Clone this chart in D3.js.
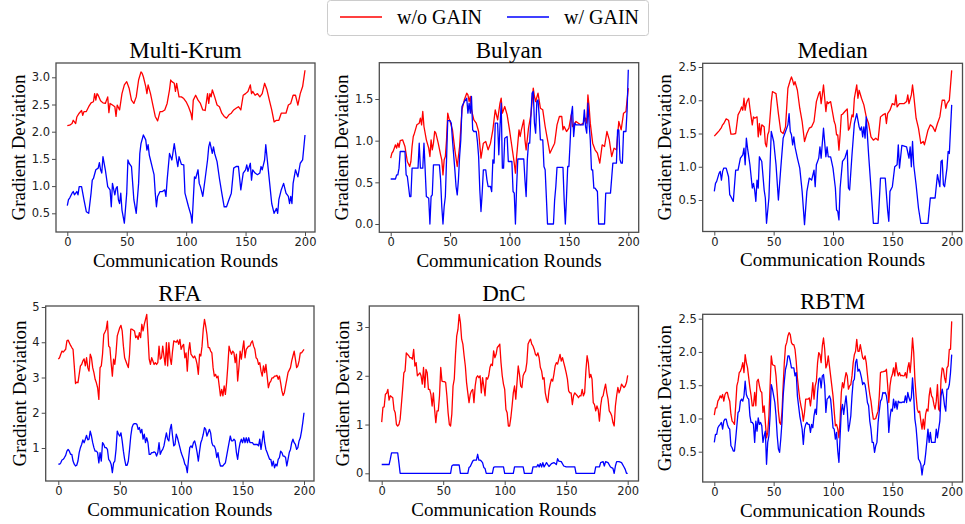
<!DOCTYPE html>
<html><head><meta charset="utf-8">
<script src="https://cdn.jsdelivr.net/npm/d3@7"></script>
<style>body{margin:0;background:#fff}svg{display:block}</style>
</head><body>
<svg id="c" width="965" height="524"></svg>
<script>
// ---------- DATA ----------
const seriesNames = ["w/o GAIN", "w/ GAIN"];
const seriesColors = ["#ff0000", "#0000ff"];
const panelTitles = ["Multi-Krum", "Bulyan", "Median", "RFA", "DnC", "RBTM"];
const xTicks = [0, 50, 100, 150, 200];
const xLabel = "Communication Rounds";
const yLabel = "Gradient Deviation";
const multiKrumYTicks = [0.5, 1.0, 1.5, 2.0, 2.5, 3.0];
const bulyanYTicks = [0.0, 0.5, 1.0, 1.5];
const medianYTicks = [0.5, 1.0, 1.5, 2.0, 2.5];
const rfaYTicks = [1, 2, 3, 4, 5];
const dncYTicks = [0, 1, 2, 3];
const rbtmYTicks = [0.5, 1.0, 1.5, 2.0, 2.5];

const multiKrumRed = [[0,2.11],[2,2.12],[4,2.15],[5,2.21],[6,2.18],[7,2.15],[8,2.27],[10,2.34],[12,2.39],[13,2.30],[14,2.37],[16,2.37],[18,2.46],[20,2.53],[22,2.55],[23,2.70],[24,2.58],[25,2.70],[26,2.67],[28,2.57],[30,2.53],[32,2.52],[34,2.64],[35,2.35],[36,2.52],[38,2.49],[40,2.46],[41,2.28],[42,2.49],[44,2.40],[46,2.70],[48,2.86],[50,2.92],[52,2.80],[54,2.58],[56,2.52],[58,2.64],[60,2.95],[62,3.10],[63,3.07],[64,3.01],[66,2.83],[67,2.70],[68,2.86],[70,2.70],[72,2.49],[74,2.28],[76,2.20],[78,2.37],[80,2.37],[82,2.40],[84,2.52],[86,2.77],[87,2.95],[88,2.92],[90,2.89],[91,2.74],[92,2.89],[94,2.64],[96,2.64],[98,2.61],[100,2.55],[102,2.46],[104,2.34],[105,2.22],[106,2.58],[108,2.67],[110,2.58],[112,2.52],[114,2.40],[116,2.39],[118,2.70],[119,2.52],[120,2.70],[121,2.64],[122,2.77],[124,2.64],[126,2.49],[128,2.46],[130,2.34],[132,2.28],[134,2.25],[136,2.31],[138,2.34],[140,2.40],[142,2.43],[144,2.46],[146,2.40],[148,2.67],[150,2.70],[152,2.74],[154,2.86],[155,2.70],[156,2.74],[158,2.67],[160,2.70],[162,2.64],[164,2.70],[166,2.89],[168,2.77],[170,2.58],[172,2.40],[174,2.18],[176,2.21],[178,2.21],[180,2.34],[182,2.34],[184,2.34],[186,2.49],[188,2.52],[190,2.67],[192,2.67],[193,2.58],[194,2.49],[196,2.70],[198,2.83],[200,3.13]];
const multiKrumBlue = [[0,0.64],[1,0.75],[2,0.78],[4,0.87],[5,0.90],[6,0.84],[8,0.90],[9,0.84],[10,0.99],[12,0.99],[14,0.75],[16,0.53],[18,0.50],[20,0.87],[21,1.11],[22,1.14],[24,1.30],[26,1.33],[27,1.43],[28,1.30],[29,1.24],[30,1.54],[32,1.30],[34,0.99],[36,0.93],[37,0.62],[38,1.05],[40,0.84],[41,0.96],[42,0.99],[43,0.75],[44,0.68],[45,0.87],[46,0.56],[48,0.32],[50,0.87],[51,1.48],[52,1.42],[54,1.36],[56,0.75],[58,0.50],[60,1.05],[61,1.60],[62,1.78],[64,1.94],[66,1.85],[67,1.66],[68,1.76],[69,1.57],[70,1.48],[72,1.30],[73,1.21],[74,0.87],[75,0.62],[76,0.81],[78,0.90],[80,0.90],[82,0.93],[83,0.81],[84,1.11],[86,1.60],[88,1.48],[90,1.78],[92,1.48],[93,1.36],[94,1.54],[96,1.40],[98,1.39],[99,0.87],[102,0.62],[104,0.47],[105,0.32],[106,0.75],[107,1.17],[108,1.14],[110,1.30],[111,1.05],[112,0.99],[114,0.81],[116,1.14],[118,1.48],[119,1.72],[120,1.81],[122,1.60],[123,1.72],[124,1.60],[126,1.45],[128,1.14],[130,0.87],[132,0.62],[134,0.62],[136,0.75],[138,0.87],[140,1.33],[142,1.36],[144,1.36],[146,0.93],[148,1.24],[150,1.30],[151,1.39],[152,1.27],[154,1.42],[155,1.11],[156,1.30],[158,1.24],[160,1.21],[162,1.24],[163,1.36],[164,1.30],[165,1.39],[166,1.48],[167,1.76],[168,1.54],[170,1.11],[172,0.68],[174,0.50],[176,0.59],[177,0.50],[178,0.75],[180,0.93],[182,1.05],[184,0.87],[186,0.81],[187,0.68],[188,0.81],[189,0.68],[190,1.05],[192,1.30],[194,1.17],[196,1.42],[198,1.48],[200,1.94]];

const bulyanRed = [[0,0.79],[1,0.85],[2,0.87],[3,0.91],[4,0.95],[5,0.91],[6,0.97],[7,0.92],[8,1.00],[10,1.01],[12,0.93],[14,0.75],[16,0.69],[17,0.75],[18,0.93],[19,1.05],[20,1.09],[22,1.19],[24,1.21],[25,1.27],[26,1.19],[27,1.35],[28,1.17],[30,1.01],[32,0.91],[33,0.81],[34,1.01],[35,0.89],[36,0.97],[37,1.11],[38,1.09],[40,0.97],[42,0.83],[43,0.77],[44,0.59],[45,0.77],[46,0.81],[47,1.01],[48,1.33],[49,1.27],[50,1.23],[52,1.13],[54,0.89],[56,0.69],[58,0.93],[60,1.37],[62,1.49],[64,1.57],[65,1.55],[66,1.47],[67,1.53],[68,1.37],[70,1.25],[72,1.21],[74,1.11],[76,0.79],[78,0.97],[80,0.99],[82,0.89],[84,0.97],[86,1.13],[88,1.37],[90,1.25],[92,1.45],[93,1.51],[94,1.33],[96,1.41],[98,1.31],[100,1.13],[102,0.93],[104,0.73],[105,0.61],[106,0.81],[108,1.13],[109,1.05],[110,1.13],[112,1.25],[113,1.01],[114,0.89],[116,1.15],[118,1.31],[120,1.63],[121,1.53],[122,1.47],[124,1.57],[126,1.39],[128,1.37],[130,1.17],[132,1.01],[134,0.85],[136,0.91],[138,0.97],[140,1.19],[142,1.29],[144,1.29],[145,1.13],[146,1.17],[148,1.11],[150,1.15],[152,1.31],[153,1.17],[154,1.19],[156,1.23],[158,1.21],[160,1.19],[162,1.21],[164,1.27],[165,1.21],[166,1.55],[167,1.41],[168,1.21],[170,0.97],[172,0.89],[174,0.85],[176,0.73],[178,0.95],[180,0.93],[182,1.11],[184,1.01],[186,0.81],[188,0.91],[190,0.89],[192,1.23],[194,1.13],[196,1.33],[198,1.35],[200,1.63]];
const bulyanBlue = [[0,0.54],[4,0.54],[5,0.59],[6,0.59],[7,0.67],[8,0.87],[12,0.87],[13,0.59],[14,0.57],[15,0.45],[16,0.33],[17,0.33],[18,0.67],[23,0.67],[24,0.97],[25,0.67],[27,0.67],[28,0.97],[29,0.65],[30,0.33],[32,0.31],[33,0.0],[34,0.33],[35,0.35],[36,0.71],[41,0.71],[42,0.53],[43,0.21],[44,0.0],[45,0.21],[46,0.33],[47,0.77],[48,1.24],[50,1.24],[51,1.21],[52,1.01],[54,0.65],[55,0.45],[56,0.35],[57,0.53],[58,0.81],[59,1.01],[60,1.41],[62,1.47],[64,1.51],[65,1.33],[66,1.45],[67,1.33],[68,1.53],[69,1.13],[70,1.11],[72,1.11],[73,0.99],[74,0.81],[75,0.41],[76,0.15],[77,0.37],[78,0.65],[80,0.65],[81,0.53],[82,0.45],[84,0.45],[85,0.39],[86,0.77],[87,0.73],[88,1.21],[90,1.21],[91,0.83],[92,1.17],[93,1.45],[94,0.67],[95,0.67],[96,1.03],[98,1.05],[99,0.75],[102,0.75],[103,0.39],[104,0.37],[105,0.0],[106,0.45],[107,0.78],[112,0.78],[113,0.53],[114,0.33],[115,0.77],[116,0.97],[117,0.97],[118,1.29],[119,1.57],[120,1.59],[121,1.21],[122,1.09],[123,1.47],[124,1.49],[125,1.29],[126,1.01],[128,1.01],[129,0.69],[130,0.65],[131,0.33],[132,0.0],[137,0.0],[138,0.29],[139,0.45],[140,0.68],[145,0.68],[146,0.29],[147,0.0],[148,0.33],[149,0.69],[150,0.69],[151,0.97],[152,1.31],[153,1.41],[154,1.05],[155,1.21],[156,1.19],[162,1.19],[163,1.37],[164,1.17],[165,1.09],[166,1.45],[167,1.21],[168,1.01],[169,0.65],[170,0.65],[171,0.43],[172,0.43],[174,0.39],[175,0.0],[180,0.0],[181,0.37],[185,0.37],[186,0.55],[187,0.73],[190,0.73],[191,1.13],[192,1.13],[193,0.77],[194,0.73],[195,0.73],[196,1.11],[198,1.11],[199,1.37],[200,1.85]];

const medianRed = [[0,1.46],[2,1.50],[4,1.54],[6,1.59],[7,1.63],[8,1.65],[10,1.72],[12,1.70],[14,1.49],[16,1.49],[18,1.50],[20,1.78],[22,1.85],[23,1.90],[24,1.85],[25,2.03],[26,1.85],[27,1.95],[28,2.00],[29,2.03],[30,1.88],[32,1.63],[33,1.75],[34,1.73],[36,1.75],[37,1.45],[38,1.65],[39,1.48],[40,1.63],[42,1.60],[43,1.35],[44,1.30],[45,1.48],[46,1.53],[48,1.98],[49,2.13],[50,2.12],[52,2.10],[54,1.80],[56,1.53],[58,1.50],[60,1.60],[62,2.18],[64,2.30],[65,2.35],[66,2.30],[67,2.23],[68,2.28],[70,2.15],[72,1.88],[74,1.68],[76,1.38],[78,1.50],[80,1.58],[82,1.60],[84,1.68],[86,1.98],[88,2.10],[89,2.13],[90,1.95],[91,2.08],[92,2.23],[94,1.83],[95,1.98],[96,1.95],[98,1.98],[100,1.78],[101,1.68],[102,1.63],[103,1.48],[104,1.48],[105,1.25],[106,1.48],[107,1.78],[108,1.79],[110,1.83],[112,1.87],[113,1.55],[114,1.58],[116,1.78],[117,1.75],[118,2.03],[120,2.23],[121,2.03],[122,2.15],[124,2.03],[126,1.93],[128,1.75],[130,1.65],[132,1.45],[134,1.40],[136,1.43],[138,1.40],[140,1.75],[142,1.78],[144,1.80],[145,1.65],[146,1.80],[148,1.85],[150,1.95],[152,1.93],[153,2.08],[154,1.90],[156,1.95],[158,1.95],[160,1.95],[162,1.98],[163,2.08],[164,1.95],[166,2.08],[167,2.23],[168,2.08],[170,1.73],[172,1.58],[174,1.35],[176,1.38],[177,1.33],[178,1.40],[180,1.55],[182,1.63],[184,1.60],[186,1.53],[188,1.65],[190,1.75],[192,2.00],[194,2.00],[195,1.88],[196,1.95],[198,2.00],[200,2.45]];
const medianBlue = [[0,0.63],[1,0.75],[2,0.78],[4,0.90],[5,0.93],[6,0.80],[7,0.93],[8,0.98],[10,0.98],[12,0.85],[13,0.58],[14,0.55],[16,0.48],[18,0.95],[20,0.95],[22,1.13],[24,1.18],[25,1.28],[26,1.03],[27,1.43],[28,1.28],[30,1.03],[32,0.68],[33,0.75],[34,0.65],[35,0.48],[36,0.80],[37,0.68],[38,1.15],[40,1.08],[42,0.65],[43,0.53],[44,0.15],[46,0.53],[48,1.53],[50,1.38],[52,1.03],[54,0.50],[56,0.98],[58,1.43],[60,1.53],[62,1.63],[63,1.80],[64,1.53],[65,1.48],[66,1.33],[67,1.45],[68,1.30],[70,1.13],[72,0.98],[74,0.63],[76,0.13],[78,0.63],[80,0.83],[82,0.80],[84,0.95],[85,0.70],[86,1.03],[88,1.13],[89,1.30],[90,1.13],[92,1.58],[94,1.15],[95,1.30],[96,1.15],[98,1.15],[100,0.98],[102,0.68],[103,0.35],[104,0.33],[105,0.20],[106,0.68],[108,1.08],[110,1.13],[112,1.25],[113,0.68],[114,0.65],[116,1.18],[118,1.65],[120,1.80],[122,1.60],[123,1.55],[124,1.60],[125,1.45],[126,1.60],[127,1.43],[128,1.75],[130,1.18],[132,0.68],[134,0.15],[138,0.15],[140,0.83],[144,0.83],[146,0.35],[147,0.18],[148,0.63],[150,0.70],[152,1.00],[154,1.03],[155,1.33],[156,0.98],[158,1.32],[162,1.30],[164,1.13],[165,1.30],[166,1.00],[167,1.38],[168,1.03],[170,0.73],[172,0.38],[174,0.15],[180,0.15],[182,0.53],[186,0.53],[188,0.88],[190,0.70],[191,1.08],[192,1.10],[193,0.73],[194,0.70],[196,0.98],[197,1.23],[198,1.20],[200,1.93]];

const rfaRed = [[0,3.52],[1,3.56],[2,3.66],[3,3.75],[4,3.72],[6,3.80],[7,4.04],[8,4.06],[10,3.91],[11,3.85],[12,3.80],[13,3.33],[14,2.83],[15,2.87],[16,2.85],[18,3.33],[19,3.37],[20,3.47],[21,3.53],[22,3.33],[23,3.56],[24,3.28],[25,3.18],[26,3.66],[27,3.56],[28,3.28],[29,3.14],[30,2.95],[31,2.85],[32,2.71],[33,2.38],[34,3.28],[35,3.33],[36,3.66],[37,4.22],[38,4.29],[39,4.37],[40,4.60],[41,3.89],[42,3.85],[43,3.42],[44,3.04],[45,3.52],[46,3.37],[47,3.70],[48,4.18],[50,4.41],[51,4.48],[52,4.32],[53,3.89],[54,3.56],[56,3.37],[57,3.28],[58,3.66],[59,4.37],[60,4.37],[62,4.32],[63,4.13],[64,4.18],[65,4.08],[66,4.27],[67,4.13],[68,4.51],[69,4.32],[70,4.51],[71,4.65],[72,4.79],[73,4.18],[74,3.52],[75,3.37],[76,3.56],[77,3.47],[78,3.37],[79,3.42],[80,3.37],[81,3.42],[82,3.89],[83,3.52],[84,3.56],[85,3.89],[86,3.61],[87,3.35],[88,3.99],[89,3.33],[90,3.99],[91,3.56],[92,3.37],[93,3.75],[94,4.04],[96,4.00],[97,4.06],[98,3.94],[99,4.08],[100,3.80],[101,3.89],[102,3.94],[103,3.56],[104,3.70],[105,3.18],[106,3.75],[107,3.99],[108,3.66],[110,3.56],[111,3.61],[112,3.52],[113,3.37],[114,3.09],[115,3.66],[116,3.61],[117,3.89],[118,4.37],[119,4.65],[120,4.46],[121,4.22],[122,3.85],[123,3.85],[124,3.75],[125,3.70],[126,3.28],[127,3.04],[128,3.09],[129,2.99],[130,3.04],[131,2.76],[132,2.48],[133,2.66],[134,2.48],[135,2.76],[136,2.52],[137,2.85],[138,3.33],[139,3.89],[140,3.75],[141,3.66],[142,3.75],[143,3.70],[144,3.42],[145,3.66],[146,2.90],[147,3.28],[148,3.75],[149,3.52],[150,3.80],[151,4.04],[152,3.56],[153,3.80],[154,3.85],[155,3.89],[156,3.89],[157,3.99],[158,4.04],[159,3.89],[160,3.80],[161,3.56],[162,3.52],[163,3.37],[164,3.42],[165,3.18],[166,3.04],[167,3.33],[168,3.14],[169,3.37],[170,3.04],[171,2.71],[172,2.85],[173,2.90],[174,2.99],[175,2.99],[176,3.04],[177,3.04],[178,3.06],[179,2.95],[180,3.04],[181,2.85],[182,2.62],[183,2.49],[184,2.57],[185,2.76],[186,2.95],[187,3.14],[188,3.21],[189,3.28],[190,3.47],[191,3.61],[192,3.75],[193,3.52],[194,3.28],[195,3.33],[196,3.47],[197,3.70],[198,3.70],[199,3.75],[200,3.80]];
const rfaBlue = [[0,0.54],[1,0.54],[2,0.58],[3,0.66],[4,0.68],[5,0.73],[6,0.79],[7,0.91],[8,0.96],[9,0.91],[10,0.82],[11,0.82],[12,0.63],[13,0.54],[14,0.49],[15,0.51],[16,0.63],[17,0.87],[18,1.01],[19,1.10],[20,1.23],[21,1.15],[22,1.25],[23,1.36],[24,1.23],[25,1.25],[26,1.48],[27,1.34],[28,1.15],[29,1.01],[30,0.91],[31,0.91],[32,0.87],[33,0.58],[34,0.87],[35,0.63],[36,1.15],[37,1.10],[38,1.01],[39,1.01],[40,0.96],[41,0.68],[42,0.63],[43,0.54],[44,0.30],[45,0.58],[46,0.63],[47,0.96],[48,1.48],[49,1.39],[50,1.34],[51,1.43],[52,1.20],[53,0.91],[54,0.68],[55,0.51],[56,0.51],[57,0.63],[58,0.96],[59,1.34],[60,1.58],[61,1.67],[62,1.69],[63,1.69],[64,1.67],[65,1.53],[66,1.58],[67,1.43],[68,1.53],[69,1.25],[70,1.39],[71,1.15],[72,1.29],[73,1.15],[74,0.82],[75,0.82],[76,0.87],[77,0.87],[78,0.89],[79,0.87],[80,0.77],[81,0.87],[82,1.15],[83,0.82],[84,0.91],[85,0.96],[86,1.06],[87,1.25],[88,1.43],[89,1.25],[90,1.20],[91,1.53],[92,1.67],[93,1.34],[94,1.06],[95,1.10],[96,1.39],[97,1.29],[98,1.15],[99,1.01],[100,0.87],[101,0.77],[102,0.68],[103,0.54],[104,0.49],[105,0.30],[106,0.68],[107,1.01],[108,1.06],[109,1.01],[110,1.15],[111,1.20],[112,1.06],[113,0.87],[114,0.63],[115,0.91],[116,1.15],[117,1.25],[118,1.39],[119,1.58],[120,1.53],[121,1.34],[122,1.43],[123,1.53],[124,1.43],[125,1.15],[126,1.06],[127,1.06],[128,0.96],[129,0.73],[130,0.87],[131,0.63],[132,0.49],[133,0.49],[134,0.49],[135,0.54],[136,0.58],[137,0.77],[138,0.96],[139,1.15],[140,1.34],[141,1.20],[142,1.20],[143,1.25],[144,1.20],[145,0.87],[146,0.68],[147,0.96],[148,1.15],[149,1.25],[150,1.15],[151,1.29],[152,1.15],[153,1.29],[154,1.15],[155,1.29],[156,1.15],[157,1.15],[158,1.15],[159,1.10],[160,1.10],[161,1.10],[162,1.10],[163,1.06],[164,1.25],[165,0.96],[166,1.20],[167,1.48],[168,1.15],[169,0.96],[170,0.87],[171,0.77],[172,0.68],[173,0.68],[174,0.49],[175,0.63],[176,0.44],[177,0.54],[178,0.49],[179,0.68],[180,0.73],[181,0.91],[182,0.87],[183,0.77],[184,0.77],[185,0.73],[186,0.49],[187,0.68],[188,0.87],[189,0.96],[190,1.15],[191,1.25],[192,1.15],[193,1.10],[194,0.96],[195,1.01],[196,1.20],[197,1.29],[198,1.48],[199,1.72],[200,2.00]];

const dncRed = [[0,1.05],[1,1.35],[2,1.36],[3,1.62],[4,1.64],[5,1.72],[6,1.50],[7,1.59],[8,1.57],[9,1.55],[10,1.31],[11,1.24],[12,1.00],[13,0.97],[14,1.00],[15,1.11],[16,1.41],[17,1.72],[18,2.06],[19,2.10],[20,2.47],[21,2.44],[22,2.41],[23,2.37],[24,2.37],[25,2.34],[26,2.54],[27,2.20],[28,2.27],[29,2.00],[30,2.03],[31,2.06],[32,2.00],[33,1.83],[34,2.17],[35,1.76],[36,2.13],[37,2.06],[38,1.72],[39,1.72],[40,1.62],[41,1.38],[42,1.65],[43,1.31],[44,1.04],[45,1.28],[46,1.28],[47,1.59],[48,2.17],[49,1.89],[50,1.88],[51,1.88],[52,1.86],[53,1.59],[54,1.24],[55,1.00],[56,0.97],[57,1.21],[58,1.79],[59,1.93],[60,2.44],[61,2.82],[62,2.95],[63,3.26],[64,3.09],[65,2.75],[66,2.65],[67,2.41],[68,2.20],[69,1.86],[70,1.65],[71,1.45],[72,1.62],[73,1.69],[74,1.72],[75,1.45],[76,1.79],[77,1.96],[78,2.00],[79,1.96],[80,2.00],[81,1.65],[82,1.96],[83,1.79],[84,1.59],[85,1.96],[86,1.93],[87,2.00],[88,2.17],[89,2.24],[90,2.21],[91,2.51],[92,2.37],[93,2.44],[94,2.58],[95,2.61],[96,2.65],[97,2.27],[98,2.00],[99,1.83],[100,1.72],[101,1.31],[102,1.24],[103,0.97],[104,0.97],[105,1.14],[106,1.38],[107,1.65],[108,1.79],[109,1.52],[110,1.86],[111,2.20],[112,2.03],[113,1.79],[114,1.76],[115,2.00],[116,2.06],[117,2.10],[118,2.27],[119,2.65],[120,2.71],[121,2.75],[122,2.65],[123,2.61],[124,2.54],[125,2.44],[126,2.41],[127,2.47],[128,2.37],[129,2.17],[130,2.10],[131,1.93],[132,1.96],[133,1.65],[134,1.52],[135,1.45],[136,1.69],[137,1.83],[138,1.93],[139,1.89],[140,2.03],[141,2.20],[142,2.27],[143,2.24],[144,2.34],[145,2.44],[146,2.30],[147,2.37],[148,2.27],[149,2.17],[150,2.06],[151,1.93],[152,1.69],[153,1.65],[154,1.65],[155,1.41],[156,1.59],[157,1.65],[158,1.62],[159,1.59],[160,1.55],[161,1.59],[162,1.59],[163,1.72],[164,1.59],[165,1.65],[166,2.10],[167,2.41],[168,2.27],[169,1.96],[170,2.03],[171,1.93],[172,1.45],[173,1.41],[174,1.28],[175,1.38],[176,1.31],[177,1.07],[178,1.38],[179,1.55],[180,1.59],[181,1.72],[182,1.83],[183,1.65],[184,1.52],[185,1.28],[186,1.24],[187,1.18],[188,1.04],[189,0.97],[190,1.38],[191,1.59],[192,1.76],[193,1.65],[194,1.72],[195,1.83],[196,1.79],[197,1.76],[198,1.79],[199,1.86],[200,2.01]];
const dncBlue = [[0,0.18],[6,0.18],[7,0.29],[8,0.42],[13,0.42],[14,0.22],[15,0.0],[56,0.0],[57,0.15],[58,0.17],[63,0.17],[64,0.0],[70,0.0],[71,0.12],[72,0.14],[74,0.25],[75,0.27],[77,0.27],[78,0.39],[79,0.27],[80,0.27],[81,0.25],[82,0.22],[83,0.12],[84,0.10],[85,0.0],[90,0.0],[91,0.12],[92,0.13],[99,0.13],[100,0.0],[107,0.0],[108,0.13],[115,0.13],[116,0.0],[122,0.0],[123,0.13],[126,0.13],[127,0.18],[128,0.13],[129,0.20],[130,0.13],[131,0.22],[132,0.13],[134,0.22],[136,0.14],[138,0.20],[140,0.22],[142,0.18],[143,0.30],[144,0.25],[146,0.24],[148,0.15],[150,0.13],[157,0.13],[158,0.0],[173,0.0],[174,0.13],[177,0.13],[178,0.22],[180,0.24],[181,0.15],[182,0.24],[184,0.22],[186,0.13],[188,0.10],[189,0.0],[190,0.15],[191,0.24],[193,0.24],[195,0.22],[197,0.13],[198,0.08],[199,0.0],[200,0.0]];

const rbtmRed = [[0,1.05],[1,1.16],[2,1.16],[3,1.26],[4,1.29],[5,1.34],[6,1.31],[7,1.36],[8,1.26],[9,1.36],[10,1.39],[11,1.39],[12,1.31],[13,1.26],[14,1.06],[15,0.96],[16,0.94],[17,0.91],[18,1.19],[19,1.49],[20,1.56],[21,1.69],[22,1.71],[23,1.76],[24,1.84],[25,1.69],[26,1.96],[27,1.84],[28,1.76],[29,1.61],[30,1.46],[31,1.34],[32,1.19],[33,1.19],[34,1.39],[35,1.19],[36,1.56],[37,1.59],[38,1.49],[39,1.41],[40,1.39],[41,1.09],[42,1.19],[43,0.94],[44,0.71],[45,0.79],[46,1.04],[47,1.49],[48,1.94],[49,1.81],[50,1.80],[51,1.79],[52,1.64],[53,1.39],[54,1.11],[55,0.94],[56,0.91],[57,1.09],[58,1.49],[59,1.84],[60,2.09],[61,2.14],[62,2.24],[63,2.29],[64,2.26],[65,2.14],[66,2.11],[67,2.11],[68,2.04],[69,1.86],[70,1.61],[71,1.44],[72,1.29],[73,1.19],[74,1.11],[75,0.96],[76,1.09],[77,1.29],[78,1.29],[79,1.29],[80,1.31],[81,1.19],[82,1.34],[83,1.54],[84,1.29],[85,1.49],[86,1.56],[87,1.84],[88,1.99],[89,1.96],[90,1.84],[91,2.09],[92,2.21],[93,2.04],[94,1.76],[95,1.81],[96,1.94],[97,1.79],[98,1.64],[99,1.49],[100,1.34],[101,1.11],[102,0.89],[103,0.91],[104,0.84],[105,0.71],[106,0.99],[107,1.39],[108,1.54],[109,1.46],[110,1.59],[111,1.69],[112,1.64],[113,1.44],[114,1.49],[115,1.51],[116,1.64],[117,1.84],[118,1.96],[119,2.01],[120,2.19],[121,2.01],[122,2.01],[123,2.11],[124,2.01],[125,1.91],[126,1.89],[127,1.94],[128,1.84],[129,1.66],[130,1.49],[131,1.36],[132,1.26],[133,1.11],[134,0.99],[135,0.99],[136,1.00],[137,1.06],[138,1.11],[139,1.34],[140,1.69],[141,1.70],[142,1.70],[143,1.71],[144,1.71],[145,1.74],[146,1.51],[147,1.24],[148,1.49],[149,1.61],[150,1.66],[151,1.76],[152,1.64],[153,1.84],[154,1.71],[155,1.64],[156,1.69],[157,1.64],[158,1.65],[159,1.64],[160,1.64],[161,1.69],[162,1.61],[163,1.76],[164,1.84],[165,1.69],[166,1.91],[167,2.21],[168,1.99],[169,1.59],[170,1.34],[171,1.14],[172,1.09],[173,1.11],[174,0.96],[175,0.84],[176,0.99],[177,0.84],[178,1.06],[179,1.14],[180,1.11],[181,1.34],[182,1.46],[183,1.34],[184,1.31],[185,1.21],[186,1.14],[187,1.26],[188,1.51],[189,1.14],[190,1.11],[191,1.59],[192,1.76],[193,1.74],[194,1.61],[195,1.54],[196,1.76],[197,1.79],[198,2.04],[199,2.04],[200,2.46]];
const rbtmBlue = [[0,0.64],[1,0.76],[2,0.76],[3,0.86],[4,0.89],[5,0.91],[6,0.94],[7,0.84],[8,0.96],[9,0.99],[10,0.99],[11,0.91],[12,0.86],[13,0.84],[14,0.59],[15,0.56],[16,0.51],[17,0.51],[18,0.69],[19,0.89],[20,1.09],[21,1.11],[22,1.26],[23,1.29],[24,1.26],[25,1.34],[26,1.56],[27,1.36],[28,1.31],[29,1.29],[30,1.04],[31,0.94],[32,0.94],[33,0.91],[34,0.64],[35,0.96],[36,0.81],[37,1.01],[38,0.91],[39,0.94],[40,0.89],[41,0.64],[42,0.74],[43,0.81],[44,0.31],[45,0.64],[46,0.74],[47,1.04],[48,1.51],[49,1.44],[50,1.34],[51,1.24],[52,1.04],[53,0.74],[54,0.54],[55,0.49],[56,0.69],[57,0.94],[58,1.34],[59,1.56],[60,1.74],[61,1.81],[62,1.94],[63,1.94],[64,1.86],[65,1.76],[66,1.76],[67,1.76],[68,1.64],[69,1.69],[70,1.34],[71,1.19],[72,1.04],[73,0.94],[74,0.84],[75,0.61],[76,0.84],[77,0.91],[78,0.94],[79,0.91],[80,0.91],[81,0.79],[82,0.91],[83,0.86],[84,1.04],[85,1.14],[86,1.06],[87,1.39],[88,1.59],[89,1.61],[90,1.46],[91,1.64],[92,1.66],[93,1.49],[94,1.09],[95,1.29],[96,1.31],[97,1.34],[98,1.29],[99,1.09],[100,0.86],[101,0.84],[102,0.69],[103,0.79],[104,0.51],[105,0.34],[106,0.74],[107,1.11],[108,1.21],[109,1.06],[110,1.21],[111,1.34],[112,1.14],[113,0.81],[114,0.91],[115,1.04],[116,1.34],[117,1.56],[118,1.59],[119,1.84],[120,1.89],[121,1.71],[122,1.74],[123,1.69],[124,1.61],[125,1.51],[126,1.54],[127,1.51],[128,1.39],[129,1.24],[130,1.19],[131,0.96],[132,0.84],[133,0.64],[134,0.64],[135,0.49],[136,0.59],[137,0.64],[138,0.94],[139,1.11],[140,1.26],[141,1.29],[142,1.39],[143,1.38],[144,1.39],[145,1.34],[146,1.21],[147,0.79],[148,1.01],[149,1.14],[150,1.11],[151,1.29],[152,1.16],[153,1.26],[154,1.14],[155,1.26],[156,1.24],[157,1.24],[158,1.24],[159,1.25],[160,1.24],[161,1.34],[162,1.24],[163,1.39],[164,1.31],[165,1.26],[166,1.31],[167,1.61],[168,1.34],[169,0.99],[170,0.86],[171,0.64],[172,0.39],[173,0.36],[174,0.31],[175,0.15],[176,0.29],[177,0.31],[178,0.46],[179,0.64],[180,0.84],[181,0.64],[182,0.79],[183,0.64],[184,0.64],[185,0.64],[186,0.64],[187,0.84],[188,0.71],[189,0.84],[190,0.96],[191,1.34],[192,1.44],[193,1.34],[194,1.19],[195,1.11],[196,1.44],[197,1.44],[198,1.51],[199,1.69],[200,1.96]];

// ---------- LAYOUT ----------
const panels = [
  {title: panelTitles[0], red: multiKrumRed, blue: multiKrumBlue, yTicks: multiKrumYTicks, fmt: d3.format(".1f"),
   L: 56, R: 315, T: 63, B: 232, xPx: [67.3, 305], yMap: [[3.0, 77.3], [0.5, 213.3]], ylabX: 18},
  {title: panelTitles[1], red: bulyanRed, blue: bulyanBlue, yTicks: bulyanYTicks, fmt: d3.format(".1f"),
   L: 379.3, R: 638.7, T: 62.7, B: 232.3, xPx: [390.7, 628.3], yMap: [[1.5, 99], [0.0, 224]], ylabX: 341},
  {title: panelTitles[2], red: medianRed, blue: medianBlue, yTicks: medianYTicks, fmt: d3.format(".1f"),
   L: 702.7, R: 962.5, T: 63.3, B: 231.5, xPx: [714.3, 951.7], yMap: [[2.5, 67], [0.5, 200]], ylabX: 664},
  {title: panelTitles[3], red: rfaRed, blue: rfaBlue, yTicks: rfaYTicks, fmt: d3.format("d"),
   L: 45.7, R: 314, T: 306, B: 481, xPx: [58.3, 304], yMap: [[5, 307], [1, 448]], ylabX: 19},
  {title: panelTitles[4], red: dncRed, blue: dncBlue, yTicks: dncYTicks, fmt: d3.format("d"),
   L: 369.3, R: 638.5, T: 306, B: 481, xPx: [381.7, 627.7], yMap: [[3, 327], [0, 473.3]], ylabX: 342},
  {title: panelTitles[5], red: rbtmRed, blue: rbtmBlue, yTicks: rbtmYTicks, fmt: d3.format(".1f"),
   L: 702.7, R: 962.5, T: 314.3, B: 482, xPx: [714.3, 951.7], yMap: [[2.5, 318.7], [0.5, 451.7]], ylabX: 664}
];

const svg = d3.select("#c");
const serif = "'Liberation Serif','Times New Roman',serif";
const sans = "'DejaVu Sans',sans-serif";
const frameColor = "#4d4d4d";

panels.forEach((p, i) => {
  const x = d3.scaleLinear().domain([0, 200]).range(p.xPx);
  const y = d3.scaleLinear().domain([p.yMap[0][0], p.yMap[1][0]]).range([p.yMap[0][1], p.yMap[1][1]]);
  const g = svg.append("g");
  const clipId = "clip" + i;
  svg.append("defs").append("clipPath").attr("id", clipId)
    .append("rect").attr("x", p.L).attr("y", p.T).attr("width", p.R - p.L).attr("height", p.B - p.T);

  const line = d3.line().x(d => x(d[0])).y(d => y(d[1]));
  const lg = g.append("g").attr("clip-path", `url(#${clipId})`);
  [p.red, p.blue].forEach((data, k) => {
    lg.append("path").datum(data).attr("d", line)
      .attr("fill", "none").attr("stroke", seriesColors[k]).attr("stroke-width", 1.3)
      .attr("stroke-linejoin", "round").attr("stroke-linecap", "butt");
  });

  // frame
  g.append("rect").attr("x", p.L).attr("y", p.T).attr("width", p.R - p.L).attr("height", p.B - p.T)
    .attr("fill", "none").attr("stroke", frameColor).attr("stroke-width", 1.3);

  // x axis
  const xa = g.append("g").attr("transform", `translate(0,${p.B})`)
    .call(d3.axisBottom(x).tickValues(xTicks).tickSize(4).tickPadding(2).tickFormat(d3.format("d")));
  xa.select(".domain").remove();
  xa.selectAll("line").attr("stroke", frameColor).attr("stroke-width", 1);
  xa.selectAll("text").attr("font-family", sans).attr("font-size", 11.5).attr("fill", "#222");

  // y axis
  const ya = g.append("g").attr("transform", `translate(${p.L},0)`)
    .call(d3.axisLeft(y).tickValues(p.yTicks).tickSize(4).tickPadding(2).tickFormat(p.fmt));
  ya.select(".domain").remove();
  ya.selectAll("line").attr("stroke", frameColor).attr("stroke-width", 1);
  ya.selectAll("text").attr("font-family", sans).attr("font-size", 11.5).attr("fill", "#222");

  // title
  g.append("text").attr("x", (p.L + p.R) / 2).attr("y", p.T - 5)
    .attr("text-anchor", "middle").attr("font-family", serif).attr("font-size", 23).attr("fill", "#000")
    .text(p.title);
  // x label
  g.append("text").attr("x", (p.L + p.R) / 2).attr("y", p.B + 34.5)
    .attr("text-anchor", "middle").attr("font-family", serif).attr("font-size", 19).attr("fill", "#000")
    .text(xLabel);
  // y label
  g.append("text").attr("transform", `translate(${p.ylabX},${(p.T + p.B) / 2}) rotate(-90)`)
    .attr("text-anchor", "middle").attr("dominant-baseline", "central")
    .attr("font-family", serif).attr("font-size", 19).attr("fill", "#000")
    .text(yLabel);
});

// legend
const leg = svg.append("g");
leg.append("rect").attr("x", 327.5).attr("y", 0.5).attr("width", 321).attr("height", 35).attr("rx", 3)
  .attr("fill", "#fff").attr("stroke", "#cccccc").attr("stroke-width", 1);
const legX = [340, 507];
seriesNames.forEach((n, k) => {
  leg.append("line").attr("x1", legX[k]).attr("x2", legX[k] + 42).attr("y1", 17).attr("y2", 17)
    .attr("stroke", seriesColors[k]).attr("stroke-width", 1.5);
  leg.append("text").attr("x", legX[k] + 57).attr("y", 24).attr("font-family", serif).attr("font-size", 20)
    .attr("fill", "#000").text(n);
});
</script>
</body></html>
